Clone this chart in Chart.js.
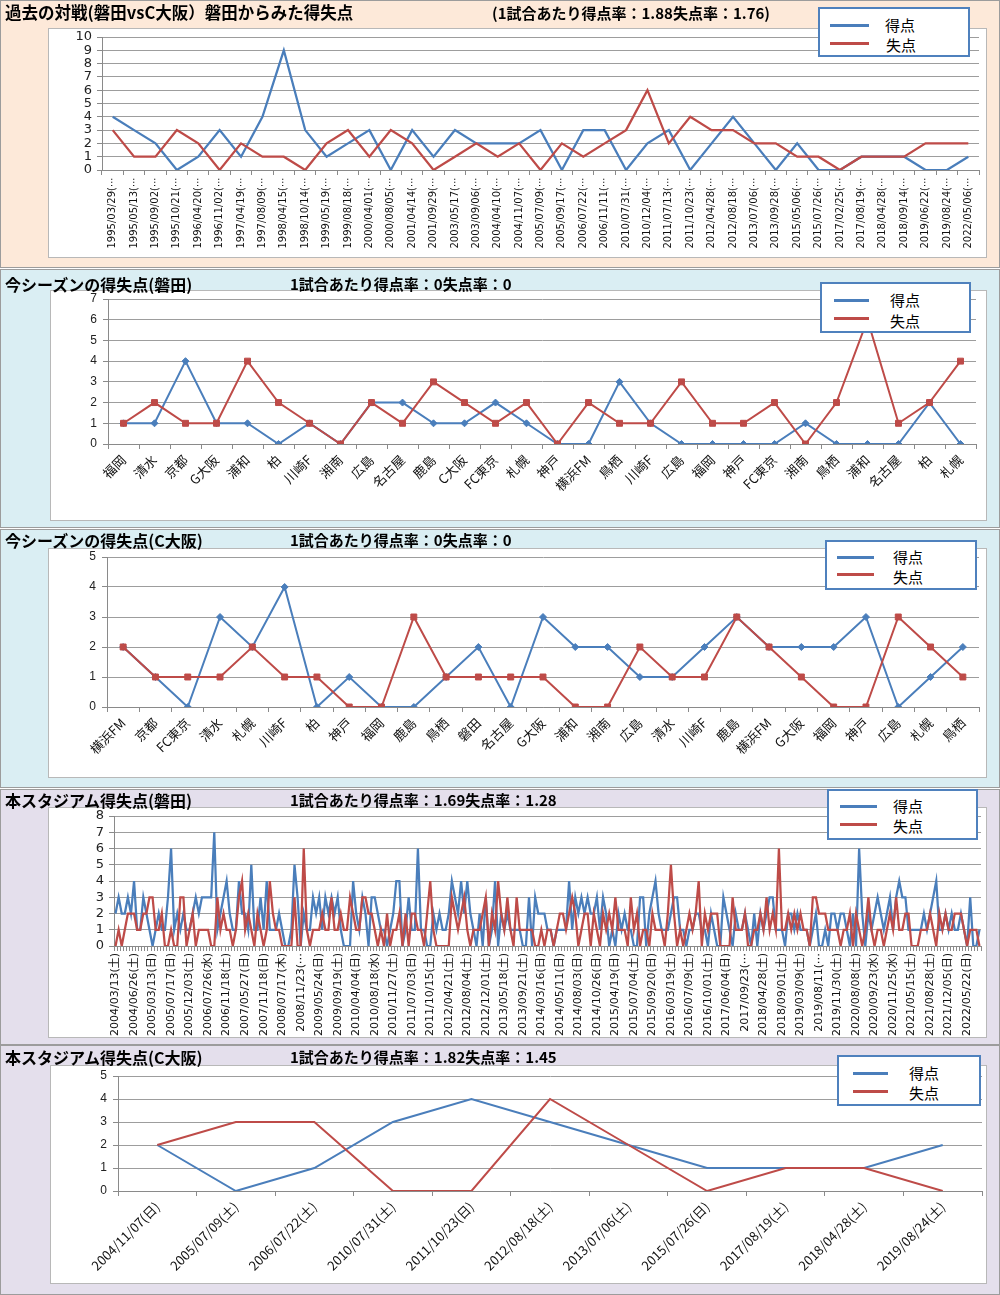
<!DOCTYPE html>
<html lang="ja">
<head>
<meta charset="UTF-8">
<title>磐田 vs C大阪 得失点</title>
<style>
    body {
        margin: 0;
        width: 1000px;
        height: 1295px;
        position: relative;
        overflow: hidden;
        background: #fff;
        font-family: "Noto Sans CJK JP", sans-serif;
    }
    .sec {
        position: absolute;
        left: 0;
        width: 1000px;
        box-shadow: inset 0 0 0 1px #9c9c9c;
    }
    .sec canvas { position: absolute; left: 0; top: 0; }
    .box {
        position: absolute;
        background: #fff;
        border: 1px solid #b8b8b8;
        box-sizing: border-box;
    }
    .ttl {
        position: absolute;
        font-weight: bold;
        white-space: nowrap;
        color: #000;
        line-height: 1;
    }
    .lg {
        position: absolute;
        background: #fff;
        border: 2px solid #4f81bd;
        box-sizing: border-box;
        z-index: 2;
    }
    .lg .ln { position: absolute; height: 3px; }
    .lg .tx { position: absolute; font-size: 15px; line-height: 1; color: #000; }
    .blue { background: #4a7ebb; }
    .red { background: #be4b48; }
</style>
</head>
<body>

<div class="sec" style="top:0;height:268px;background:#fde9d9">
    <div class="box" style="left:48px;top:28px;width:939px;height:230px"></div>
    <canvas id="h2hChart" width="1000" height="268"></canvas>
    <div class="ttl" style="left:5px;top:4px;font-size:16.5px">過去の対戦(磐田vsC大阪）磐田からみた得失点</div>
    <div class="ttl" style="left:492px;top:5px;font-size:15px">(1試合あたり得点率：1.88失点率：1.76)</div>
    <div class="lg" style="left:818px;top:7px;width:152px;height:50px">
        <div class="ln blue" style="left:10px;top:15px;width:39px"></div>
        <div class="ln red" style="left:10px;top:33px;width:39px"></div>
        <div class="tx" style="left:65px;top:8px">得点</div>
        <div class="tx" style="left:66px;top:28px">失点</div>
    </div>
</div>

<div class="sec" style="top:269px;height:259px;background:#daeef3">
    <div class="box" style="left:50px;top:21px;width:937px;height:231px"></div>
    <canvas id="jubiloChart" width="1000" height="259"></canvas>
    <div class="ttl" style="left:5px;top:7px;font-size:16px">今シーズンの得失点(磐田)</div>
    <div class="ttl" style="left:290px;top:7px;font-size:15px">1試合あたり得点率：0失点率：0</div>
    <div class="lg" style="left:820px;top:13px;width:151px;height:51px">
        <div class="ln blue" style="left:12px;top:15px;width:35px"></div>
        <div class="ln red" style="left:12px;top:33px;width:35px"></div>
        <div class="tx" style="left:68px;top:8px">得点</div>
        <div class="tx" style="left:68px;top:29px">失点</div>
    </div>
</div>

<div class="sec" style="top:529px;height:259px;background:#daeef3">
    <div class="box" style="left:48px;top:19px;width:939px;height:230px"></div>
    <canvas id="cerezoChart" width="1000" height="259"></canvas>
    <div class="ttl" style="left:5px;top:3px;font-size:16px">今シーズンの得失点(C大阪)</div>
    <div class="ttl" style="left:290px;top:3px;font-size:15px">1試合あたり得点率：0失点率：0</div>
    <div class="lg" style="left:825px;top:11px;width:152px;height:50px">
        <div class="ln blue" style="left:10px;top:14px;width:37px"></div>
        <div class="ln red" style="left:10px;top:31px;width:37px"></div>
        <div class="tx" style="left:66px;top:7px">得点</div>
        <div class="tx" style="left:66px;top:27px">失点</div>
    </div>
</div>

<div class="sec" style="top:789px;height:256px;background:#e4dfec">
    <div class="box" style="left:48px;top:18px;width:939px;height:231px"></div>
    <canvas id="stadiumChart" width="1000" height="256"></canvas>
    <div class="ttl" style="left:5px;top:3px;font-size:16px">本スタジアム得失点(磐田)</div>
    <div class="ttl" style="left:290px;top:3px;font-size:15px">1試合あたり得点率：1.69失点率：1.28</div>
    <div class="lg" style="left:827px;top:0px;width:151px;height:51px">
        <div class="ln blue" style="left:11px;top:14px;width:37px"></div>
        <div class="ln red" style="left:11px;top:32px;width:37px"></div>
        <div class="tx" style="left:64px;top:7px">得点</div>
        <div class="tx" style="left:64px;top:27px">失点</div>
    </div>
</div>

<div class="sec" style="top:1045px;height:250px;background:#e4dfec">
    <div class="box" style="left:50px;top:20px;width:937px;height:219px"></div>
    <canvas id="cerezoAwayChart" width="1000" height="250"></canvas>
    <div class="ttl" style="left:5px;top:4px;font-size:16px">本スタジアム得失点(C大阪)</div>
    <div class="ttl" style="left:290px;top:4px;font-size:15px">1試合あたり得点率：1.82失点率：1.45</div>
    <div class="lg" style="left:837px;top:10px;width:144px;height:51px">
        <div class="ln blue" style="left:14px;top:15px;width:35px"></div>
        <div class="ln red" style="left:14px;top:33px;width:35px"></div>
        <div class="tx" style="left:70px;top:8px">得点</div>
        <div class="tx" style="left:70px;top:28px">失点</div>
    </div>
</div>

<script src="https://cdn.jsdelivr.net/npm/chart.js"></script>
<script>
    // 過去の対戦
    const h2hDates = ['1995/03/29(⋯', '1995/05/13(⋯', '1995/09/02(⋯', '1995/10/21(⋯', '1996/04/20(⋯', '1996/11/02(⋯',
        '1997/04/19(⋯', '1997/08/09(⋯', '1998/04/15(⋯', '1998/10/14(⋯', '1999/05/19(⋯', '1999/08/18(⋯',
        '2000/04/01(⋯', '2000/08/05(⋯', '2001/04/14(⋯', '2001/09/29(⋯', '2003/05/17(⋯', '2003/09/06(⋯',
        '2004/04/10(⋯', '2004/11/07(⋯', '2005/07/09(⋯', '2005/09/17(⋯', '2006/07/22(⋯', '2006/11/11(⋯',
        '2010/07/31(⋯', '2010/12/04(⋯', '2011/07/13(⋯', '2011/10/23(⋯', '2012/04/28(⋯', '2012/08/18(⋯',
        '2013/07/06(⋯', '2013/09/28(⋯', '2015/05/06(⋯', '2015/07/26(⋯', '2017/02/25(⋯', '2017/08/19(⋯',
        '2018/04/28(⋯', '2018/09/14(⋯', '2019/06/22(⋯', '2019/08/24(⋯', '2022/05/06(⋯'];
    const h2hFor = [4, 3, 2, 0, 1, 3, 1, 4, 9, 3, 1, 2, 3, 0, 3, 1, 3, 2, 2, 2, 3, 0, 3, 3, 0, 2, 3, 0, 2, 4, 2, 0, 2, 0, 0, 1, 1, 1, 0, 0, 1];
    const h2hAgainst = [3, 1, 1, 3, 2, 0, 2, 1, 1, 0, 2, 3, 1, 3, 2, 0, 1, 2, 1, 2, 0, 2, 1, 2, 3, 6, 2, 4, 3, 3, 2, 2, 1, 1, 0, 1, 1, 1, 2, 2, 2];

    // 今シーズン(磐田)
    const jubiloTeams = ['福岡', '清水', '京都', 'G大阪', '浦和', '柏', '川崎F', '湘南', '広島', '名古屋', '鹿島', 'C大阪', 'FC東京', '札幌',
        '神戸', '横浜FM', '鳥栖', '川崎F', '広島', '福岡', '神戸', 'FC東京', '湘南', '鳥栖', '浦和', '名古屋', '柏', '札幌'];
    const jubiloFor = [1, 1, 4, 1, 1, 0, 1, 0, 2, 2, 1, 1, 2, 1, 0, 0, 3, 1, 0, 0, 0, 0, 1, 0, 0, 0, 2, 0];
    const jubiloAgainst = [1, 2, 1, 1, 4, 2, 1, 0, 2, 1, 3, 2, 1, 2, 0, 2, 1, 1, 3, 1, 1, 2, 0, 2, 6, 1, 2, 4];

    // 今シーズン(C大阪)
    const cerezoTeams = ['横浜FM', '京都', 'FC東京', '清水', '札幌', '川崎F', '柏', '神戸', '福岡', '鹿島', '鳥栖', '磐田', '名古屋', 'G大阪',
        '浦和', '湘南', '広島', '清水', '川崎F', '鹿島', '横浜FM', 'G大阪', '福岡', '神戸', '広島', '札幌', '鳥栖'];
    const cerezoFor = [2, 1, 0, 3, 2, 4, 0, 1, 0, 0, 1, 2, 0, 3, 2, 2, 1, 1, 2, 3, 2, 2, 2, 3, 0, 1, 2];
    const cerezoAgainst = [2, 1, 1, 1, 2, 1, 1, 0, 0, 3, 1, 1, 1, 1, 0, 0, 2, 1, 1, 3, 2, 1, 0, 0, 3, 2, 1];

    // 本スタジアム(磐田) - 6試合ごとに日付ラベル
    const stadiumTickLabels = ['2004/03/13(土)', '2004/06/26(土)', '2005/03/13(日)', '2005/07/17(日)', '2005/12/03(土)',
        '2006/07/26(水)', '2006/11/18(土)', '2007/05/27(日)', '2007/11/18(日)', '2008/07/17(木)', '2008/11/23(⋯',
        '2009/05/24(日)', '2009/09/19(土)', '2010/04/04(日)', '2010/08/18(水)', '2010/11/27(土)', '2011/07/03(日)',
        '2011/10/15(土)', '2012/04/21(土)', '2012/08/04(土)', '2012/12/01(土)', '2013/05/18(土)', '2013/09/21(土)',
        '2014/03/16(日)', '2014/05/11(日)', '2014/08/03(日)', '2014/10/26(日)', '2015/04/19(日)', '2015/07/04(土)',
        '2015/09/20(日)', '2016/03/19(土)', '2016/07/09(土)', '2016/10/01(土)', '2017/06/04(日)', '2017/09/23(⋯',
        '2018/04/28(土)', '2018/09/01(土)', '2019/03/09(土)', '2019/08/11(⋯', '2019/11/30(土)', '2020/08/08(土)',
        '2020/09/23(水)', '2020/11/25(水)', '2021/05/15(土)', '2021/08/28(土)', '2021/12/05(日)', '2022/05/22(日)'];
    const stadiumFor = [
        2, 3, 2, 2, 3, 2, 4, 1, 1, 3, 2, 1, 0, 1, 2, 1, 1, 3, 6, 1, 2, 1, 2, 1, 1, 2, 3, 2, 3, 3,
        3, 3, 7, 1, 2, 3, 4, 2, 1, 1, 4, 2, 2, 1, 5, 1, 1, 3, 1, 4, 1, 1, 1, 2, 1, 0, 0, 1, 5, 3,
        0, 2, 1, 1, 3, 2, 3, 1, 3, 2, 3, 2, 3, 1, 0, 0, 0, 4, 2, 1, 3, 2, 0, 3, 3, 2, 1, 1, 0, 1,
        2, 4, 4, 0, 1, 3, 1, 1, 6, 1, 1, 0, 0, 2, 1, 2, 1, 1, 2, 4, 3, 2, 4, 2, 4, 2, 1, 0, 2, 0,
        3, 0, 1, 4, 0, 2, 1, 2, 1, 1, 1, 1, 0, 0, 3, 0, 3, 2, 2, 2, 1, 1, 0, 1, 1, 1, 1, 4, 1, 3,
        2, 3, 2, 3, 2, 2, 3, 1, 3, 2, 0, 1, 0, 2, 1, 2, 1, 1, 0, 0, 3, 3, 0, 2, 3, 4, 2, 1, 1, 1,
        2, 3, 3, 1, 1, 0, 1, 1, 2, 2, 1, 1, 0, 2, 1, 0, 0, 3, 2, 1, 0, 2, 1, 1, 2, 1, 0, 2, 0, 2,
        1, 2, 3, 3, 1, 1, 1, 0, 2, 2, 1, 2, 1, 1, 1, 0, 1, 2, 0, 0, 1, 0, 2, 2, 1, 2, 2, 1, 0, 2,
        0, 6, 2, 0, 2, 1, 2, 3, 2, 1, 2, 3, 1, 3, 4, 3, 3, 1, 1, 1, 1, 1, 2, 1, 2, 3, 4, 1, 1, 2,
        1, 2, 1, 1, 2, 1, 0, 3, 0, 0, 1];
    const stadiumAgainst = [
        0, 1, 0, 1, 2, 2, 2, 1, 1, 2, 2, 3, 3, 1, 1, 2, 0, 0, 1, 0, 0, 3, 3, 0, 1, 2, 0, 1, 1, 1,
        1, 0, 0, 3, 1, 2, 1, 1, 0, 1, 3, 4, 1, 2, 1, 0, 2, 1, 0, 1, 4, 2, 1, 1, 0, 0, 0, 0, 3, 0,
        0, 6, 1, 0, 1, 1, 1, 2, 1, 1, 3, 1, 1, 2, 1, 1, 3, 2, 1, 1, 3, 3, 2, 2, 1, 0, 1, 0, 2, 0,
        1, 1, 2, 0, 2, 0, 2, 2, 1, 1, 0, 2, 4, 1, 0, 0, 0, 0, 0, 3, 2, 1, 2, 3, 1, 0, 1, 1, 1, 2,
        3, 0, 2, 1, 4, 2, 1, 3, 1, 0, 3, 1, 1, 1, 1, 1, 0, 0, 1, 0, 1, 1, 0, 1, 2, 2, 1, 2, 3, 2,
        0, 1, 2, 2, 0, 2, 1, 0, 2, 1, 2, 1, 3, 1, 1, 1, 0, 3, 1, 2, 0, 1, 1, 0, 2, 1, 1, 1, 0, 2,
        5, 2, 0, 1, 0, 1, 2, 1, 2, 4, 0, 2, 1, 2, 2, 2, 0, 0, 0, 0, 3, 1, 1, 1, 2, 0, 0, 1, 1, 2,
        1, 3, 1, 2, 1, 6, 1, 1, 2, 1, 2, 1, 2, 1, 1, 0, 3, 3, 2, 2, 2, 1, 1, 1, 1, 0, 1, 1, 2, 0,
        2, 1, 0, 1, 3, 1, 0, 1, 1, 0, 1, 2, 1, 3, 1, 1, 2, 2, 0, 0, 0, 1, 1, 1, 2, 1, 0, 2, 1, 2,
        1, 1, 2, 2, 2, 1, 0, 1, 1, 1, 0];

    // 本スタジアム(C大阪)
    const cerezoAwayDates = ['2004/11/07(日)', '2005/07/09(土)', '2006/07/22(土)', '2010/07/31(土)', '2011/10/23(日)',
        '2012/08/18(土)', '2013/07/06(土)', '2015/07/26(日)', '2017/08/19(土)', '2018/04/28(土)', '2019/08/24(土)'];
    const cerezoAwayFor = [2, 0, 1, 3, 4, 3, 2, 1, 1, 1, 2];
    const cerezoAwayAgainst = [2, 3, 3, 0, 0, 4, 2, 0, 1, 1, 0];

    const BLUE = '#4a7ebb';
    const RED = '#be4b48';
    const GRID = '#9d9d9d';
    const AXIS = '#8a8a8a';

    function drawLines(id, labels, forData, againstData, cfg) {
        const canvas = document.getElementById(id);
        const H = canvas.height;
        const W = canvas.width;
        const a = cfg.area;
        return new Chart(canvas, {
            type: 'line',
            data: {
                labels: labels,
                datasets: [{
                    label: '得点',
                    data: forData,
                    borderColor: BLUE,
                    backgroundColor: BLUE,
                    borderWidth: cfg.lineWidth,
                    pointStyle: 'rectRot',
                    pointRadius: cfg.markers ? 3.5 : 0,
                    pointBorderWidth: 1,
                    tension: 0,
                    order: 1
                }, {
                    label: '失点',
                    data: againstData,
                    borderColor: RED,
                    backgroundColor: RED,
                    borderWidth: cfg.lineWidth,
                    pointStyle: 'rect',
                    pointRadius: cfg.markers ? 4.2 : 0,
                    pointBorderWidth: 1,
                    tension: 0,
                    order: 0
                }]
            },
            options: {
                responsive: false,
                animation: false,
                events: [],
                layout: { padding: { left: 0, top: a.top, right: W - a.right, bottom: 0 } },
                plugins: { legend: { display: false }, tooltip: { enabled: false } },
                scales: {
                    x: {
                        offset: true,
                        grid: { offset: true, drawOnChartArea: false, tickLength: 5, color: AXIS, tickColor: AXIS },
                        border: { color: AXIS },
                        ticks: {
                            autoSkip: false,
                            maxRotation: cfg.rotation,
                            minRotation: cfg.rotation,
                            padding: cfg.xPad,
                            font: cfg.xFont,
                            color: '#111'
                        },
                        afterFit: scale => { scale.height = H - a.bottom; }
                    },
                    y: {
                        min: 0,
                        max: cfg.max,
                        ticks: { count: cfg.max + 1, autoSkip: false, padding: cfg.yPad, font: cfg.yFont, color: '#222' },
                        grid: { color: GRID, tickColor: AXIS, tickLength: 5 },
                        border: { color: AXIS },
                        afterFit: scale => { scale.width = a.left; }
                    }
                }
            }
        });
    }

    const vertFont = size => ({ family: '"DejaVu Sans", "Noto Sans CJK JP", sans-serif', size: size });
    const axisFont = size => ({ family: '"DejaVu Sans", sans-serif', size: size, lineHeight: 1 });
    const jpFont = size => ({ family: '"Noto Sans CJK JP", sans-serif', size: size });
    const narrowFont = size => ({ family: '"Liberation Sans Narrow", "Liberation Sans", sans-serif', size: size, lineHeight: 1 });

    drawLines('h2hChart', h2hDates, h2hFor, h2hAgainst, {
        area: { left: 102, right: 979, top: 37, bottom: 170 },
        max: 10, lineWidth: 2.25, markers: false, rotation: 90, xPad: 2,
        xFont: vertFont(10), yFont: axisFont(13), yPad: 5
    });

    drawLines('jubiloChart', jubiloTeams, jubiloFor, jubiloAgainst, {
        area: { left: 108, right: 976, top: 30, bottom: 175 },
        max: 7, lineWidth: 2, markers: true, rotation: 45, xPad: 3,
        xFont: jpFont(13), yFont: narrowFont(12), yPad: 6
    });

    drawLines('cerezoChart', cerezoTeams, cerezoFor, cerezoAgainst, {
        area: { left: 107, right: 979, top: 28, bottom: 178 },
        max: 5, lineWidth: 2, markers: true, rotation: 45, xPad: 3,
        xFont: jpFont(13), yFont: narrowFont(12), yPad: 6
    });

    const stadiumLabels = stadiumFor.map((_, i) => (i % 6 === 0 ? stadiumTickLabels[i / 6] : ''));
    drawLines('stadiumChart', stadiumLabels, stadiumFor, stadiumAgainst, {
        area: { left: 114, right: 981, top: 27, bottom: 157 },
        max: 8, lineWidth: 2.25, markers: false, rotation: 90, xPad: 2,
        xFont: vertFont(11), yFont: axisFont(13), yPad: 5
    });

    drawLines('cerezoAwayChart', cerezoAwayDates, cerezoAwayFor, cerezoAwayAgainst, {
        area: { left: 118, right: 982, top: 31, bottom: 146 },
        max: 5, lineWidth: 2, markers: false, rotation: 45, xPad: 3,
        xFont: jpFont(13), yFont: narrowFont(12), yPad: 6
    });
</script>
</body>
</html>
